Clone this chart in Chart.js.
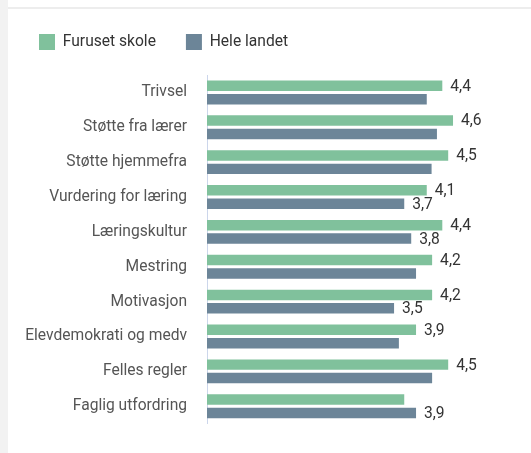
<!DOCTYPE html>
<html>
<head>
<meta charset="utf-8">
<script src="https://cdn.jsdelivr.net/npm/chart.js@4"></script>
<style>
  html, body { margin: 0; padding: 0; background: #fff; }
  #page { position: relative; width: 531px; height: 453px; overflow: hidden; }
  #strip { position: absolute; left: 0; top: 0; width: 8px; height: 453px; background: #f2f2f2; }
  #topline { position: absolute; left: 8px; top: 7px; width: 523px; height: 2px; background: #ededed; }
  #chartBox { position: absolute; left: 0; top: 0; width: 531px; height: 453px; }
</style>
</head>
<body>
<div id="page">
  <div id="strip"></div>
  <div id="topline"></div>
  <div id="chartBox"><canvas id="barChart"></canvas></div>
</div>
<script>
// Data
const categories = ['Trivsel', 'Støtte fra lærer', 'Støtte hjemmefra', 'Vurdering for læring', 'Læringskultur',
    'Mestring', 'Motivasjon', 'Elevdemokrati og medv', 'Felles regler', 'Faglig utfordring'];
const furusetValues = [4.39, 4.59, 4.50, 4.10, 4.39, 4.20, 4.20, 3.90, 4.50, 3.68];
const landetValues = [4.10, 4.29, 4.19, 3.68, 3.81, 3.90, 3.49, 3.58, 4.20, 3.90];
// which bars carry a value label in the original
const furusetShowLabel = [true, true, true, true, true, true, true, true, true, false];
const landetShowLabel = [false, false, false, true, true, false, true, false, false, true];

const green = '#80c19c';
const slate = '#6c8598';
const fontSize = 15.6;

// Draws "4,4" style labels at the end of the bars
const valueLabels = {
    id: 'valueLabels',
    afterDatasetsDraw(chart) {
        const ctx = chart.ctx;
        ctx.save();
        ctx.font = fontSize + 'px Roboto';
        ctx.fillStyle = '#333';
        ctx.textAlign = 'left';
        ctx.textBaseline = 'middle';
        chart.data.datasets.forEach((ds, i) => {
            const meta = chart.getDatasetMeta(i);
            meta.data.forEach((bar, j) => {
                if (!ds.showLabel[j]) return;
                const txt = ds.data[j].toFixed(1).replace('.', ',');
                ctx.fillText(txt, bar.x + 8, bar.y + 1);
            });
        });
        ctx.restore();
    }
};

// Extra room between legend and plot
const legendGap = {
    id: 'legendGap',
    beforeInit(chart) {
        const origFit = chart.legend.fit;
        chart.legend.fit = function() {
            origFit.bind(chart.legend)();
            this.height += 15;
        };
    }
};

const ctx = document.getElementById('barChart');
new Chart(ctx, {
    type: 'bar',
    data: {
        labels: categories,
        datasets: [
            {
                label: 'Furuset skole',
                data: furusetValues,
                showLabel: furusetShowLabel,
                backgroundColor: green,
                barPercentage: 0.78,
                categoryPercentage: 0.77
            },
            {
                label: 'Hele landet',
                data: landetValues,
                showLabel: landetShowLabel,
                backgroundColor: slate,
                barPercentage: 0.78,
                categoryPercentage: 0.77
            }
        ]
    },
    options: {
        indexAxis: 'y',
        responsive: true,
        maintainAspectRatio: false,
        animation: false,
        layout: {
            padding: { left: 9, top: 4, right: 56, bottom: 18 }
        },
        plugins: {
            legend: {
                position: 'top',
                align: 'start',
                labels: {
                    boxWidth: 16,
                    boxHeight: 16,
                    padding: 30,
                    color: '#333',
                    font: { family: 'Roboto', size: fontSize }
                }
            },
            tooltip: { enabled: false }
        },
        scales: {
            x: {
                display: false,
                min: 0,
                max: 5
            },
            y: {
                grid: { display: false, drawTicks: false },
                border: { display: true, color: '#ccd6eb', width: 1 },
                ticks: {
                    padding: 20,
                    color: '#555',
                    font: { family: 'Roboto', size: fontSize }
                },
                afterFit(scale) {
                    scale.width = 198;
                }
            }
        }
    },
    plugins: [valueLabels, legendGap]
});
</script>
</body>
</html>
